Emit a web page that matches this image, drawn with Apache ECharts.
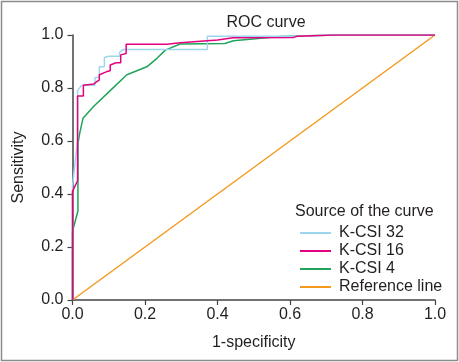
<!DOCTYPE html>
<html><head><meta charset="utf-8">
<script src="https://cdn.jsdelivr.net/npm/echarts@6/dist/echarts.min.js"></script>
<style>html,body{margin:0;padding:0;background:#fff}#c{width:459px;height:362px}</style>
</head><body><div id="c"></div>
<script>
var xTicks = ['0.0','0.2','0.4','0.6','0.8','1.0'];
var seriesNames = ['K-CSI 32','K-CSI 16','K-CSI 4','Reference line'];
var fpr32 = [0,0,0,0.012,0.014,0.014,0.025,0.062,0.062,0.074,0.074,0.088,0.088,0.1,0.13,0.13,0.14,0.372,0.372,0.6,0.72,1];
var tpr32 = [0,0.26,0.43,0.58,0.6,0.79,0.81,0.81,0.84,0.84,0.88,0.88,0.915,0.92,0.92,0.935,0.945,0.945,0.995,0.995,1,1];
var fpr16 = [0,0,0,0.014,0.014,0.03,0.03,0.058,0.068,0.074,0.074,0.095,0.104,0.104,0.12,0.133,0.133,0.148,0.148,0.26,0.297,0.4,0.443,0.61,0.62,0.724,1];
var tpr16 = [0,0.26,0.41,0.45,0.77,0.77,0.81,0.815,0.825,0.83,0.85,0.862,0.865,0.887,0.895,0.895,0.925,0.93,0.965,0.965,0.971,0.981,0.99,0.991,0.995,1,1];
var fpr4 = [0,0,0.015,0.015,0.02,0.029,0.058,0.104,0.15,0.205,0.233,0.256,0.297,0.42,0.444,0.572,0.724,1];
var tpr4 = [0,0.258,0.337,0.59,0.63,0.686,0.73,0.79,0.85,0.88,0.912,0.943,0.966,0.968,0.978,0.994,1,1];
var fprRef = [0,1];
var tprRef = [0,1];
var colors = ['#9fd6ef','#e5007f','#1fa45a','#f39a1e'];

function pairs(xs, ys){ return xs.map(function(x,i){return [x, ys[i]];}); }
var chart = echarts.init(document.getElementById('c'));
var font = 'Liberation Sans, Arial, sans-serif';
var txt = '#231f20';
var data = [pairs(fpr32,tpr32), pairs(fpr16,tpr16), pairs(fpr4,tpr4), pairs(fprRef,tprRef)];
var order = [3,2,0,1];
chart.setOption({
  animation:false,
  backgroundColor:'#fff',
  textStyle:{fontFamily:font},
  title:{text:'ROC curve', left:261, top:10, textAlign:'center', textStyle:{fontFamily:font,fontSize:16,fontWeight:'normal',color:txt}},
  graphic:[
    {type:'rect', shape:{x:1.5,y:1.5,width:456,height:359}, style:{fill:'none',stroke:'#8c8c8c',lineWidth:1.5}, silent:true},
    {type:'text', left:295, top:204, style:{text:'Source of the curve', font:'16px '+font, fill:txt}}
  ],
  grid:{left:72.5, right:24, top:35, bottom:62},
  legend:{orient:'vertical', left:295, top:220, itemWidth:31, itemHeight:2, itemGap:2, icon:'rect',
    textStyle:{fontFamily:font,fontSize:16,color:txt, padding:[0,0,0,3]},
    data:seriesNames},
  xAxis:{type:'value', min:0, max:1, interval:0.2, name:'1-specificity', nameLocation:'middle', nameGap:35,
    nameTextStyle:{fontFamily:font,fontSize:16,color:txt},
    axisLine:{lineStyle:{color:'#444',width:1.5}}, axisTick:{length:5,lineStyle:{color:'#444',width:1.2}},
    axisLabel:{margin:7,fontSize:16,color:txt,fontFamily:font, formatter:function(v){return xTicks[Math.round(v*5)];}},
    splitLine:{show:false}},
  yAxis:{type:'value', min:0, max:1, interval:0.2, name:'Sensitivity', nameLocation:'middle', nameGap:46,
    nameTextStyle:{fontFamily:font,fontSize:16,color:txt},
    axisLine:{show:true,lineStyle:{color:'#444',width:1.5}}, axisTick:{show:true,length:5,lineStyle:{color:'#444',width:1.2}},
    axisLabel:{margin:9,fontSize:16,color:txt,fontFamily:font, formatter:function(v){return xTicks[Math.round(v*5)];}},
    splitLine:{show:false}},
  series: order.map(function(i){
    return {name:seriesNames[i], type:'line', data:data[i], showSymbol:false, symbol:'none',
      lineStyle:{color:colors[i], width:1.5}, itemStyle:{color:colors[i]}, z:2};
  })
});
</script></body></html>
